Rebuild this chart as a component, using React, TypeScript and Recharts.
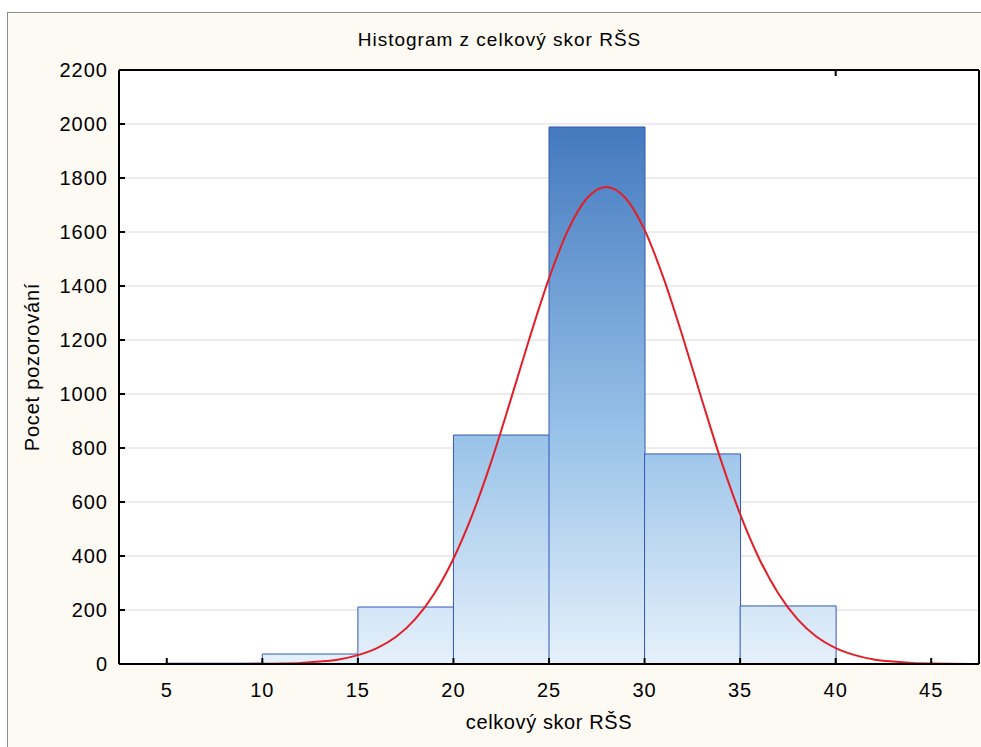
import { Bar, CartesianGrid, ComposedChart, Line, XAxis, YAxis } from "recharts";

// histogram bins (midpoints of 5-wide classes) and counts
const binMid = [7.5, 12.5, 17.5, 22.5, 27.5, 32.5, 37.5];
const binCount = [3, 37, 211, 848, 1989, 778, 215];

// fitted normal curve
const curveX = [
  3, 4, 5, 6, 7, 8, 9, 10, 11, 12, 13, 14, 15, 16, 17, 18, 19, 20, 21, 22, 23, 24, 25,
  26, 27, 28, 29, 30, 31, 32, 33, 34, 35, 36, 37, 38, 39, 40, 41, 42, 43, 44, 45, 46, 47,
];
const curveY = [
  0, 0, 0, 0, 0, 0.1, 0.3, 0.9, 2, 4, 9, 17, 33, 59, 101, 166, 261, 390, 555, 754, 979,
  1211, 1428, 1608, 1726, 1767, 1726, 1608, 1428, 1211, 979, 754, 555, 390, 261, 166, 101,
  59, 33, 17, 9, 4, 2, 0.9, 0.3,
];

const xTicks = [5, 10, 15, 20, 25, 30, 35, 40, 45];
const yTicks = [0, 200, 400, 600, 800, 1000, 1200, 1400, 1600, 1800, 2000, 2200];

const bars = binMid.map((mid, i) => ({ mid, count: binCount[i] }));
const curve = curveX.map((x, i) => ({ x, y: curveY[i] }));

const FONT = '"Liberation Sans", Arial, sans-serif';
const xDomain = [2.5, 47.5];
const yDomain = [0, 2200];
const axisLine = { stroke: "#000", strokeWidth: 2 };
const TICK = 6; // inward tick length

// tick renderers: label plus an inward tick mark
const BottomTick = ({ x, y, payload }: any) => (
  <g>
    <line x1={x} x2={x} y1={y - 19} y2={y - 19 - TICK} stroke="#000" strokeWidth={2} />
    <text x={x} y={y} dy="0.71em" textAnchor="middle" fill="#000" fontSize={20} fontFamily={FONT} letterSpacing={1}>
      {payload.value}
    </text>
  </g>
);
const LeftTick = ({ x, y, payload }: any) => (
  <g>
    <line x1={x + 11} x2={x + 11 + TICK} y1={y} y2={y} stroke="#000" strokeWidth={2} />
    <text x={x} y={y} dy="0.355em" textAnchor="end" fill="#000" fontSize={20} fontFamily={FONT} letterSpacing={1}>
      {payload.value}
    </text>
  </g>
);
const TopTick = ({ x, y }: any) => <line x1={x} x2={x} y1={y} y2={y + TICK} stroke="#000" strokeWidth={2} />;
const RightTick = ({ x, y }: any) => <line x1={x - TICK} x2={x} y1={y} y2={y} stroke="#000" strokeWidth={2} />;

export default function App() {
  return (
    <div style={{ position: "absolute", left: 0, top: 0, width: 981, height: 747, overflow: "hidden", background: "#fff" }}>
      <div
        style={{
          position: "absolute",
          left: 7,
          top: 12,
          width: 1000,
          height: 800,
          border: "1px solid #8c8c8c",
          background: "#fdfaf3",
        }}
      />
      {/* white plot background */}
      <div style={{ position: "absolute", left: 119, top: 70, width: 860, height: 594, background: "#fff" }} />
      <div
        style={{
          position: "absolute",
          left: 0,
          top: 30,
          width: 999,
          textAlign: "center",
          fontFamily: FONT,
          fontSize: 19,
          lineHeight: "20px",
          letterSpacing: 1,
          color: "#000",
        }}
      >
        Histogram z celkový skor RŠS
      </div>
      <div style={{ position: "absolute", left: 0, top: 0 }}>
        <ComposedChart
          width={981}
          height={747}
          data={bars}
          margin={{ top: 69, right: 1, bottom: 0, left: 0 }}
          barCategoryGap={0}
          barGap={0}
          style={{ fontFamily: FONT }}
        >
          <defs>
            <linearGradient id="barFill" gradientUnits="userSpaceOnUse" x1="0" y1="127" x2="0" y2="664">
              <stop offset="0" stopColor="#4479bf" />
              <stop offset="0.57" stopColor="#98c2e8" />
              <stop offset="1" stopColor="#e6f1fb" />
            </linearGradient>
          </defs>
          <CartesianGrid vertical={false} stroke="#dadada" />
          <Bar
            dataKey="count"
            fill="url(#barFill)"
            stroke="#3558b8"
            strokeWidth={1}
            isAnimationActive={false}
          />
          <Line
            data={curve}
            xAxisId="curve"
            dataKey="y"
            type="monotone"
            stroke="#e41e26"
            strokeWidth={2}
            dot={false}
            activeDot={false}
            isAnimationActive={false}
          />
          <XAxis
            dataKey="mid"
            type="number"
            domain={xDomain}
            ticks={xTicks}
            interval={0}
            height={83}
            axisLine={axisLine}
            tickLine={false}
            tickSize={0}
            tickMargin={19}
            tick={BottomTick}
            label={{
              value: "celkový skor RŠS",
              position: "insideBottom",
              offset: 18,
              fill: "#000",
              fontSize: 20,
              fontFamily: FONT,
              letterSpacing: 0.6,
            }}
          />
          <XAxis xAxisId="top" orientation="top" type="number" domain={xDomain} ticks={xTicks} interval={0}
            height={1} axisLine={axisLine} tickLine={false} tickSize={0} tickMargin={0} tick={TopTick} />
          <XAxis xAxisId="curve" dataKey="x" type="number" domain={xDomain} hide />
          <YAxis
            type="number"
            domain={yDomain}
            ticks={yTicks}
            interval={0}
            width={119}
            axisLine={axisLine}
            tickLine={false}
            tickSize={0}
            tickMargin={11}
            tick={LeftTick}
            label={{
              value: "Pocet pozorování",
              angle: -90,
              position: "insideLeft",
              offset: 32,
              fill: "#000",
              fontSize: 20,
              fontFamily: FONT,
              letterSpacing: 0.8,
              style: { textAnchor: "middle" },
            }}
          />
          <YAxis yAxisId="right" orientation="right" type="number" domain={yDomain} ticks={yTicks} interval={0}
            width={1} axisLine={axisLine} tickLine={false} tickSize={0} tickMargin={0} tick={RightTick} />
        </ComposedChart>
      </div>
    </div>
  );
}
